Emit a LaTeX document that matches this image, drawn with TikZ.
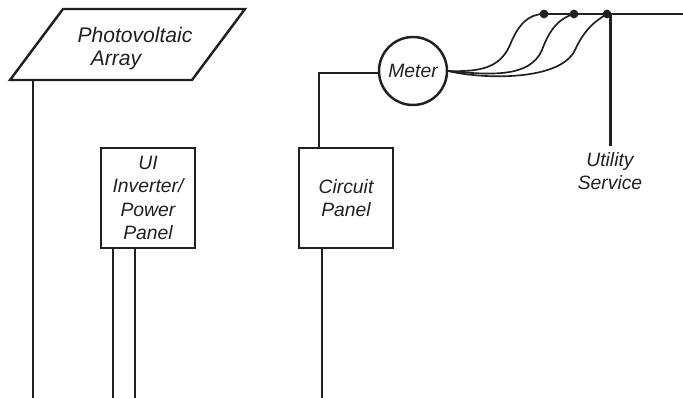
\documentclass[tikz,border=0pt]{standalone}
\usepackage{xcolor}
\usepackage{fontspec}
\setmainfont{Liberation Sans}
\definecolor{inkblack}{HTML}{231F20}

\begin{document}
\begin{tikzpicture}[x=0.2mm,y=-0.2mm,
		line width=1.4pt,draw=inkblack,text=inkblack,
		every node/.style={font=\fontsize{11}{13.2}\selectfont\itshape,align=center,inner sep=0pt},
		arraytext/.style={font=\fontsize{12}{14}\selectfont\itshape},
		panelbox/.style={draw,minimum width=18.8mm,minimum height=20mm},
		wire/.style={line width=1.4pt,line cap=butt},
		thinwire/.style={line width=0.95pt},
		junction/.style={circle,fill=inkblack,minimum size=1.75mm}]
		\useasboundingbox (0,0) rectangle (683,398);

		% solar array
		\draw[line join=miter] (63,9) -- (245,9) -- (192,80) -- (10,80) -- cycle;
		\node[arraytext] (arraytop) at (135,35) {Photovoltaic};
		\node[arraytext] (arraybot) at (116,60.5) {Array};
		\coordinate (arrayfoot) at (33,80);
		\coordinate (arrayend) at (33,398);
		\draw[wire] (arrayfoot) -- (arrayend);

		% panels
		\node[panelbox] (inverter) at (148,198) {UI\\Inverter/\\Power\\Panel};
		\node[panelbox] (circuit) at (346,198) {Circuit\\Panel};
		\coordinate (invleft) at (113,398);
		\coordinate (invright) at (135,398);
		\coordinate (circuitend) at (322,398);
		\draw[wire] (inverter.south -| invleft) -- (invleft);
		\draw[wire] (inverter.south -| invright) -- (invright);
		\draw[wire] (circuit.south -| circuitend) -- (circuitend);

		% meter
		\node[draw,circle,minimum size=13.6mm] (meter) at (413,71) {Meter};
		\coordinate (riser) at (319,73);
		\draw[wire] (circuit.north -| riser) -- (riser) -- (riser -| meter.west);

		% utility line
		\node[junction] (tapa) at (544,14) {};
		\node[junction] (tapb) at (574,14) {};
		\node[junction] (tapc) at (607,14) {};
		\coordinate (lineend) at (683,14);
		\draw[wire] (tapa.center) -- (lineend);
		\node (utility) at (610,171) {Utility\\Service};
		\coordinate (drop) at (610.7,146);
		\draw[wire] (drop |- lineend) -- (drop);

		\draw[thinwire] (meter.east) .. controls (480,72) and (500,68) .. (510,45) .. controls (518,25) and (528,14) .. (tapa.center);
		\draw[thinwire] (meter.east) .. controls (490,75) and (530,78) .. (542,50) .. controls (550,28) and (560,18) .. (tapb.center);
		\draw[thinwire] (meter.east) .. controls (480,79) and (560,82) .. (575,50) .. controls (585,28) and (597,20) .. (tapc.center);
	\end{tikzpicture}
\end{document}
